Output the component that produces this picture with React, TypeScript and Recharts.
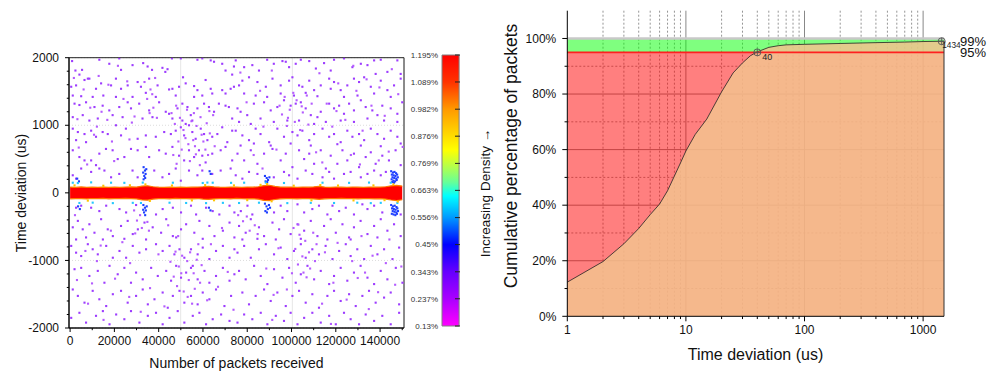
import React from 'react';
import {
  ComposedChart, Area, Scatter, XAxis, YAxis, CartesianGrid, ReferenceArea,
  ReferenceLine, ReferenceDot, BarChart, Bar,
} from 'recharts';

const FONT = '"Liberation Sans", Arial, Helvetica, sans-serif';

// ---------------- Left chart: time deviation vs packets (x in thousands of packets) ----------------
const packetTicksK = [0, 10, 20, 30, 40, 50, 60, 70, 80, 90, 100, 110, 120, 130, 140, 150];
const packetLabelTicksK = [0, 20, 40, 60, 80, 100, 120, 140];
const deviationTicks = [-2000, -1800, -1600, -1400, -1200, -1000, -800, -600, -400, -200, 0, 200, 400, 600, 800, 1000, 1200, 1400, 1600, 1800, 2000];
const deviationLabelTicks = [-2000, -1000, 0, 1000, 2000];
const deviationGridTicks = [-1000, 1000];

const bandXK = [0, 2.5, 5, 7.5, 10, 12.5, 15, 17.5, 20, 22.5, 25, 27.5, 30, 32.5, 35, 37.5, 40, 42.5, 45, 47.5, 50, 52.5, 55, 57.5, 60, 62.5, 65, 67.5, 70, 72.5, 75, 77.5, 80, 82.5, 85, 87.5, 90, 92.5, 95, 97.5, 100, 102.5, 105, 107.5, 110, 112.5, 115, 117.5, 120, 122.5, 125, 127.5, 130, 132.5, 135, 137.5, 140, 142.5, 145, 147.5, 150];
const bandUpper = [85, 80, 88, 82, 86, 80, 84, 82, 86, 80, 85, 88, 86, 100, 105, 90, 84, 82, 86, 80, 85, 82, 84, 86, 90, 96, 88, 84, 82, 86, 84, 82, 86, 84, 90, 108, 112, 95, 86, 84, 86, 82, 85, 84, 88, 95, 86, 82, 85, 84, 82, 86, 84, 82, 86, 84, 86, 90, 104, 112, 100];
const bandLower = [-88, -84, -86, -90, -84, -86, -82, -88, -84, -86, -82, -86, -90, -104, -108, -92, -86, -84, -88, -82, -86, -84, -88, -84, -92, -98, -90, -86, -84, -88, -82, -86, -88, -86, -94, -112, -115, -98, -88, -84, -86, -88, -84, -86, -90, -96, -88, -84, -86, -82, -86, -84, -88, -84, -86, -88, -86, -92, -106, -114, -102];

const violetDotsUpper: number[][] = [
  [0.9,1950],[2.4,1810],[4.2,1750],[5.4,1820],[8.7,1690],[13.2,1970],[17.7,1910],[22.2,1990],[23,1820],[28.2,1890],[33,1920],[35,1870],[37,1820],[41.7,1850],[43,1790],[44,1830],[46,1990],[50,1990],[51,1710],[57.5,1970],[59.7,1990],[63.5,1960],[65,1940],[68.7,1910],[70.2,1810],[74,1870],[73.2,1750],
  [0.5,1570],[2.7,1590],[6.5,1670],[8,1690],[11.7,1540],[14,1620],[18.5,1590],[20.7,1690],[23,1540],[26,1590],[30.5,1640],[32,1570],[35.7,1690],[39.5,1590],[44.7,1530],[46.2,1540],[49.2,1570],[52.2,1620],[56,1580],[57.5,1520],[61.2,1670],[63.5,1540],[68.7,1520],[72.5,1540],[74,1570],[1.2,1440],[5,1430],[10.2,1420],[15,1440],[20.7,1420],[28.2,1420],[34.2,1480],[38.7,1420],[47.7,1440],[56,1420],[59.7,1440],[64.2,1470],[70.2,1470],
  [2,1320],[4.2,1300],[7.2,1340],[11,1270],[14.7,1290],[17.7,1220],[22.2,1270],[26,1340],[27.5,1250],[31.2,1320],[35.7,1220],[40.2,1340],[43.2,1200],[44.7,1170],[48.5,1250],[50.7,1320],[53,1270],[54.5,1150],[55.2,1070],[57.5,1250],[60.5,1320],[62.7,1270],[65,1200],[67.2,1320],[70.2,1290],[71.7,1270],[73.2,1100],[1.2,1120],[5.7,1150],[8.7,1070],[12.5,1100],[19.2,1150],[23.7,1120],[32.7,1100],[37.2,1120],[46.2,1100],[50.7,1070],[52.2,1020],
  [1.2,950],[3.5,900],[6.5,870],[9.5,920],[11.7,830],[14.7,900],[17,870],[20.7,1000],[23,850],[25.2,950],[30.5,800],[34.2,850],[38.7,830],[42.5,900],[45.5,870],[47.7,920],[50,970],[51.5,850],[53.7,1000],[55.2,900],[56.7,800],[59,950],[60.5,870],[62,780],[64.2,830],[66.5,870],[68.7,970],[71,750],[73.2,920],[2.7,780],[7.2,750],
  [1.2,630],[4.2,530],[6.5,480],[9.5,480],[13.2,580],[16.2,650],[19.2,630],[21.5,500],[24.5,530],[27.5,650],[30.5,630],[34.2,680],[35.7,530],[40.2,630],[43.2,580],[46.2,680],[49.2,550],[51.5,480],[53.7,630],[56,530],[58.2,630],[59.7,550],[61.2,450],[64.2,580],[68,630],[70.2,680],[73.2,480],[11.7,410],
  [1.2,260],[2.7,210],[5,360],[9.5,310],[13.2,360],[15.5,330],[18.5,230],[22.2,280],[28.2,330],[30.5,230],[38,330],[41.7,230],[44.7,280],[47.7,360],[50,180],[53.7,330],[57.5,260],[59.7,330],[64.2,280],[68,330],[72.5,360],
  [74.8,1960],[78.6,1860],[82.3,1890],[85.3,1810],[89,1970],[92,1910],[95.9,1950],[97.4,1940],[98.9,1860],[101.9,1910],[104.2,1970],[108,1950],[111,1840],[114.7,1920],[117.7,1810],[119.2,1970],[123.7,1990],[127.5,1860],[131.3,1910],[134.3,1890],[137.3,1960],[140.3,1970],[143.3,1790],[147.8,1960],[149.3,1760],
  [76.3,1590],[77.8,1660],[80.8,1710],[84.6,1640],[88.4,1570],[91.4,1690],[95.1,1590],[98.9,1660],[100.4,1710],[103.4,1590],[104.9,1570],[108,1660],[110.2,1520],[113.2,1590],[117,1690],[119.2,1640],[122.2,1520],[125.2,1590],[128.2,1690],[130.5,1640],[132.8,1710],[135.8,1570],[138,1760],[140.3,1660],[143.3,1520],[146.3,1590],[149.3,1690],[78.6,1470],[83.8,1440],[89,1420],[95.1,1470],[101.1,1440],[106.4,1480],[111.7,1430],[117.7,1540],[123.7,1420],[129.8,1440],[137.3,1470],[144.8,1420],
  [75.6,1250],[77,1200],[80,1150],[83,1320],[87.6,1340],[90.6,1220],[93.6,1270],[96.6,1370],[99.6,1290],[101.9,1320],[104.2,1340],[106.4,1250],[108.7,1150],[111.7,1120],[113.2,1200],[117,1320],[119.2,1250],[121.5,1290],[123.7,1170],[126,1320],[128.2,1220],[131.3,1370],[133.5,1270],[136.5,1220],[138.8,1150],[141,1290],[144.8,1250],[147.8,1170],[150,1340],[76.3,1050],[81.6,1020],[86,1100],[92,1050],[98.1,1070],[103.4,1070],[110.2,1020],[115.5,1050],[122.2,1070],[128.2,1050],[134.3,1100],[141.8,1070],[147.8,1050],
  [74.8,920],[77.8,850],[80.8,780],[83.8,950],[86,870],[89.9,750],[93.6,950],[96.6,830],[100.4,900],[102.7,850],[104.9,920],[108,780],[110.2,870],[114,950],[117,830],[119.2,870],[122.2,750],[125.2,920],[127.5,830],[130.5,870],[132.8,780],[135.8,950],[138.8,870],[141.8,800],[144.8,920],[147.8,830],[149.3,730],[77,700],[83,730],[90.6,700],[99.6,730],[108.7,700],[120.7,720],[131.3,700],[140.3,690],
  [75.6,580],[78.6,480],[81.6,630],[84.6,430],[87.6,580],[91.4,650],[95.1,480],[97.4,580],[100.4,380],[103.4,630],[105.7,500],[108,580],[110.2,430],[113.2,630],[115.5,360],[117.7,550],[120.7,430],[123,630],[125.2,480],[128.2,580],[130.5,380],[133.5,530],[135.8,600],[138,430],[141,550],[144,480],[147,630],[149.3,410],
  [74.8,260],[77.8,210],[80.8,310],[84.6,280],[92,230],[96.6,310],[98.9,260],[102.7,210],[106.4,330],[109.4,280],[114,230],[117,310],[119.2,210],[123.7,280],[126.7,310],[131.3,230],[134.3,280],[137.3,330],[140.3,260],[142.6,310],
];

const violetDotsUpperLight: number[][] = [
  [45.8,1180],[47.3,1020],[48.9,760],[49.6,1110],[50.4,640],[51.2,930],[52.8,1230],[53.4,720],[54.1,470],[55.9,1180],[56.4,690],[57.1,990],[58.6,410],[58.9,1120],[60.2,760],[61.7,1030],[62.3,560],[63.1,880],[64.6,1150],[65.3,690],[46.6,560],[48.1,430],[52.1,810],[54.8,1060],[56.8,570],[59.4,860],[61.1,640],[62.9,1210],[47.9,1290],[55.6,780],
  [33.6,1640],[34.8,1390],[36.3,1530],[37.6,1260],[38.4,1700],[39.2,1110],[35.9,1180],[37.1,1460],
  [3.3,1090],[6.1,1530],[9.1,1260],[10.8,860],[12.9,1730],[16.8,1080],[18.9,760],[21.6,1880],[24.1,1390],[26.8,790],[29.1,1130],[7.7,420],[14.2,1200],[19.9,470],[25.8,1650],[3.9,670],[12.1,980],[27.9,1040],[1.7,1700],[17.3,1600],
  [95.7,1160],[96.9,1420],[97.9,990],[99.2,1230],[100.8,1480],[101.5,1050],[102.3,1370],[103.9,930],[105.1,1190],[106.9,1440],[107.6,1010],[109.1,1320],[94.6,1290],[98.4,1110],[104.6,1280],
  [76.9,1780],[79.7,1340],[82.9,560],[85.8,1510],[87.3,980],[91.1,1810],[93.2,640],[112.6,1770],[115.9,1320],[118.4,980],[121.1,1620],[124.3,1080],[126.8,560],[129.3,1510],[132.1,920],[133.9,1680],[136.1,1290],[139.4,480],[142.1,1140],[145.3,1830],[148.2,1460],[150.2,680],[113.9,450],[120.3,1210],[127.9,1880],[139.7,1560],[143.9,610],[86.9,360],[111.1,600],[130.9,420],
];

const violetDotsLower: number[][] = [
  [2.7,-220],[5,-190],[9.5,-220],[13.2,-270],[16.3,-190],[22.3,-240],[25.3,-290],[29.8,-180],[38.8,-320],[41.8,-240],[46.4,-220],[50.1,-290],[54.6,-190],[56.9,-320],[61.4,-220],[64.4,-270],[67.4,-320],[72,-190],[74.2,-290],
  [1.2,-510],[3.5,-415],[5.7,-540],[8.7,-465],[11,-590],[14,-390],[17,-540],[19.3,-640],[23,-490],[26,-415],[28.3,-610],[30.6,-540],[33.6,-440],[37.3,-510],[41.1,-590],[43.4,-390],[46.4,-640],[50.1,-540],[52.4,-465],[56.1,-590],[58.4,-415],[62.9,-490],[65.2,-640],[69,-560],[72,-440],[74.2,-660],[2.7,-690],[7.2,-660],[14.8,-690],[24.5,-680],[34.3,-690],[47.9,-660],[59.9,-680],
  [0.5,-785],[2.7,-885],[5,-935],[8,-760],[10.2,-835],[12.5,-910],[16.3,-785],[19.3,-960],[22.3,-860],[25.3,-960],[28.3,-785],[31.3,-885],[34.3,-835],[38.8,-760],[41.8,-860],[44.9,-785],[47.1,-910],[49.4,-835],[51.6,-960],[54.6,-835],[55.4,-1080],[57.6,-910],[59.9,-810],[62.9,-980],[65.9,-860],[69,-785],[72,-960],[74.2,-835],
  [2,-1130],[5,-1110],[8.7,-1230],[12.5,-1155],[15.5,-1330],[17.8,-1080],[21.5,-1205],[24.5,-1110],[27.5,-1330],[29.8,-1180],[32.8,-1280],[36.6,-1110],[39.6,-1230],[43.4,-1155],[45.6,-1300],[47.9,-1080],[50.1,-1255],[52.4,-1180],[54.6,-1110],[57.6,-1280],[60.7,-1155],[62.9,-1330],[65.9,-1230],[69,-1110],[72,-1300],[74.2,-1205],
  [1.2,-1430],[3.5,-1525],[6.5,-1625],[10.2,-1450],[13.2,-1575],[16.3,-1675],[19.3,-1500],[23,-1450],[26,-1625],[29.8,-1525],[32.8,-1430],[35.1,-1650],[38.1,-1575],[41.8,-1475],[44.1,-1700],[46.4,-1525],[49.4,-1450],[51.6,-1625],[54.6,-1525],[57.6,-1650],[59.9,-1475],[62.9,-1575],[65.9,-1430],[69.7,-1675],[72.7,-1525],
  [0.5,-1850],[4.2,-1775],[7.2,-1920],[11.7,-1820],[14.8,-1750],[17.8,-1945],[20.8,-1800],[24.5,-1870],[27.5,-1750],[31.3,-1920],[35.1,-1820],[38.8,-1775],[41.8,-1945],[44.9,-1850],[48.6,-1750],[51.6,-1920],[55.4,-1820],[58.4,-1775],[61.4,-1945],[64.4,-1870],[68.2,-1800],[72,-1895],
  [77.1,-270],[80.1,-190],[82.3,-320],[92.1,-290],[95.1,-190],[98.1,-270],[102.7,-170],[105.7,-290],[109.4,-240],[112.4,-190],[116.2,-320],[118.5,-190],[121.5,-270],[124.5,-220],[128.2,-320],[132,-170],[134.3,-240],[137.3,-190],[141,-290],[149.3,-320],
  [76.3,-490],[79.3,-590],[81.6,-390],[85.3,-510],[87.6,-640],[91.4,-440],[94.4,-540],[96.6,-390],[99.6,-610],[102.7,-465],[105.7,-560],[108.7,-415],[111.7,-640],[114.7,-490],[117.7,-390],[120,-590],[123,-465],[126,-660],[128.2,-510],[131.2,-415],[134.3,-610],[137.3,-490],[140.3,-390],[143.3,-560],[146.3,-465],[149.3,-640],[77.8,-690],[84.6,-680],[92.9,-690],[104.2,-680],[116.2,-690],[126.7,-690],[138.8,-660],
  [75.6,-885],[78.6,-785],[81.6,-960],[85.3,-835],[88.4,-760],[92.1,-910],[95.1,-810],[98.1,-980],[101.1,-860],[104.2,-760],[106.4,-960],[109.4,-835],[112.4,-910],[115.4,-785],[118.5,-980],[121.5,-860],[124.5,-760],[126.7,-935],[129.7,-835],[132.8,-980],[135.8,-785],[138.8,-910],[141.8,-835],[145.6,-980],[148.6,-810],
  [76.3,-1155],[79.3,-1280],[83.1,-1080],[86.1,-1230],[89.1,-1350],[92.1,-1130],[95.9,-1255],[98.9,-1110],[101.9,-1330],[104.2,-1205],[107.2,-1080],[110.2,-1280],[113.2,-1155],[117,-1350],[119.2,-1230],[122.2,-1110],[125.2,-1300],[128.2,-1180],[131.2,-1080],[134.3,-1255],[137.3,-1350],[140.3,-1155],[143.3,-1280],[147.1,-1110],[150.1,-1330],
  [77.8,-1475],[80.8,-1650],[83.8,-1525],[87.6,-1430],[90.6,-1600],[93.6,-1475],[97.4,-1675],[100.4,-1525],[103.4,-1450],[106.4,-1625],[109.4,-1500],[112.4,-1700],[116.2,-1525],[119.2,-1450],[122.2,-1600],[126,-1500],[129,-1675],[132,-1525],[135,-1450],[138,-1625],[141.8,-1550],[144.8,-1475],[148.6,-1650],
  [75.6,-1920],[78.6,-1800],[82.3,-1870],[86.1,-1775],[89.1,-1945],[92.9,-1820],[96.6,-1895],[99.6,-1775],[102.7,-1945],[105.7,-1850],[109.4,-1775],[113.2,-1920],[117,-1820],[120,-1945],[123.7,-1775],[126.7,-1870],[130.5,-1945],[133.5,-1800],[137.3,-1895],[141,-1820],[144.8,-1945],[148.6,-1775],
];

const violetDotsLowerLight: number[][] = [
  [45.3,-1020],[46.8,-1240],[47.6,-870],[48.3,-1380],[49.1,-1090],[50.6,-930],[51.3,-1460],[52.9,-1010],[53.6,-1290],[54.2,-880],[55.8,-1190],[56.3,-1420],[57.2,-990],[58.7,-1330],[59.4,-1070],[50.2,-1190],[53.1,-1540],[55.1,-1640],[57.9,-760],[48.8,-640],
  [28.9,-260],[30.2,-410],[31.6,-330],[32.4,-520],[34.9,-430],[35.6,-560],[29.4,-600],
  [100.9,-520],[101.7,-830],[102.9,-1060],[103.6,-620],[104.9,-940],[105.4,-1180],[106.2,-710],[107.9,-880],[108.4,-1120],[109.8,-590],[110.6,-1010],[111.3,-760],[103.1,-470],[106.8,-1250],[100.2,-1190],
  [75.9,-330],[78.1,-420],[79.8,-350],[81.1,-560],[83.4,-480],[84.7,-610],
  [2.2,-330],[6.9,-860],[9.9,-1340],[12.1,-1010],[15.1,-1880],[18.4,-560],[20.3,-1270],[23.6,-730],[26.7,-1540],[27.1,-1040],[31.9,-1760],[36.1,-1410],[39.9,-910],[42.6,-1680],[44.3,-480],[61.9,-1590],[63.6,-760],[66.8,-1390],[68.6,-520],[71.2,-1170],[73.8,-1730],[3.1,-1290],[8.1,-1640],[13.8,-780],
  [88.6,-1120],[91.9,-1510],[94.1,-820],[97.9,-1430],[113.8,-1640],[115.1,-880],[118.9,-1330],[120.8,-740],[124.9,-1580],[127.4,-1010],[129.9,-1260],[131.6,-640],[134.9,-1720],[136.6,-930],[139.1,-1470],[142.6,-1040],[144.2,-690],[146.8,-1360],[149.6,-1090],[91.3,-1880],[117.8,-1940],[133.2,-1180],
];

const blueDots: number[][] = [
  [33.2,380],[33.8,330],[33,300],[34.1,280],[33.5,250],[33.9,220],[33.2,200],[34.4,350],
  [33.1,-180],[33.8,-220],[34.2,-260],[33.4,-290],[33.9,-330],[34.6,-200],[33,-250],
  [88,250],[88.8,220],[89.4,190],[88.3,170],[90,230],[89,160],
  [88,-160],[88.7,-200],[89.3,-240],[88.2,-270],[89.8,-180],[90.3,-220],[88.9,-290],
  [145,320],[145.8,300],[146.5,310],[147.2,290],[145.3,270],[146.1,260],[146.9,250],[147.7,270],[145.6,230],[146.4,220],[147.3,210],[148,230],[145.2,200],[146,180],[146.8,170],[147.5,190],[146.3,150],[145.5,160],
  [145,-180],[145.8,-200],[146.6,-190],[147.4,-210],[145.4,-230],[146.2,-240],[147,-250],[147.8,-230],[145.7,-270],[146.5,-280],[147.3,-290],[148.1,-270],[145.3,-310],[146.1,-320],[146.9,-330],[147.6,-310],
  [3.2,210],[4,170],[3.6,-200],[4.4,-240],[63,320],[63.5,280],[62.7,-220],[63.4,-260],
];

const cyanDots: number[][] = [
  [1.2,150],[3.5,145],[9.5,155],[18.5,150],[24.5,148],[32.8,152],[46.4,150],[59.9,146],[62,152],[64.4,150],[72.7,148],
  [78.6,150],[88.4,152],[96.6,146],[114,150],[126,148],[135,152],[144.8,150],
  [4.2,-150],[10.2,-145],[19.3,-152],[28.3,-148],[32,-150],[44.9,-146],[52.4,-150],[61.4,-152],[69,-148],
  [76.3,-150],[85.3,-146],[98.1,-152],[108.7,-148],[119.2,-150],[129.7,-146],[135.8,-152],[140.3,-148],[147.8,-150],
];

const warmDots: number[][] = [
  [2,110],[8,-115],[15,105],[27,112],[34,125],[36,-120],[46,108],[55,-112],[61,115],[65,-110],[74,110],[80,-108],
  [86,118],[89,130],[91,-125],[101,106],[109,-110],[113,115],[121,108],[128,-112],[137,110],[142,-108],[146,125],[148,-128],
];

// ---------------- Colour bar ----------------
const densityTicks = [0.13, 0.237, 0.343, 0.45, 0.556, 0.663, 0.769, 0.876, 0.982, 1.089, 1.195];
const densityLabels = ['0.13%', '0.237%', '0.343%', '0.45%', '0.556%', '0.663%', '0.769%', '0.876%', '0.982%', '1.089%', '1.195%'];
const densityStops: [number, string][] = [
  [0, '#ff0000'], [0.1, '#ff3300'], [0.2, '#ff9900'], [0.3, '#ffdd00'], [0.35, '#ffff00'], [0.42, '#aaff55'],
  [0.47, '#66ff99'], [0.52, '#00ffff'], [0.6, '#0099ff'], [0.7, '#0000ff'], [0.8, '#6600ff'], [0.9, '#aa00ff'], [1, '#ff00ff'],
];

// ---------------- Right chart: cumulative distribution ----------------
const cdfDeviation = [1, 2, 3, 4, 5, 6, 7, 8, 9, 10, 12, 15, 20, 25, 30, 35, 40, 50, 60, 70, 100, 200, 400, 700, 1000, 1434, 1500];
const cdfPercent = [12.3, 19.7, 26.1, 31.6, 36.6, 40.4, 45.2, 50.5, 55.2, 59.5, 65.5, 71, 80.8, 87.6, 91.2, 93.8, 95.2, 96.8, 97.4, 97.7, 97.9, 98.2, 98.5, 98.7, 98.9, 99, 99];
const logTicks = [1, 2, 3, 4, 5, 6, 7, 8, 9, 10, 20, 30, 40, 50, 60, 70, 80, 90, 100, 200, 300, 400, 500, 600, 700, 800, 900, 1000];
const decadeTicks = [1, 10, 100, 1000];
const decadeGridTicks = [10, 100, 1000];
const minorLogTicks = [2, 3, 4, 5, 6, 7, 8, 9, 20, 30, 40, 50, 60, 70, 80, 90, 200, 300, 400, 500, 600, 700, 800, 900];
const percentTicks = [0, 10, 20, 30, 40, 50, 60, 70, 80, 90, 100];
const percentLabelTicks = [0, 20, 40, 60, 80, 100];
const percentGridTicks = [20, 40, 60, 80];
const percentMinorTicks = [10, 30, 50, 70, 90];
const P95 = 95;
const P99 = 99;
const FULL = 100;
const markerPoints = [{ x: 40, y: 95, label: '40' }, { x: 1434, y: 99, label: '1434' }];

const cdfRows = cdfDeviation.map((x, i) => ({ x, cdf: cdfPercent[i], below: [0, P95], above: [P95, FULL] }));
const bandRows = bandXK.map((x, i) => ({ x, band: [bandLower[i], bandUpper[i]] }));
const toPts = (arr: number[][]) => arr.map(([x, y]) => ({ x, y }));

const logDom: [number, number] = [1, 1500];
const pctDom: [number, number] = [0, 110];

// grid coordinates through the axis scale (fallback: same log / linear mapping from the plot offset)
const vGrid = (vals: number[]) => (p: any) => {
  const s = p?.xAxis?.scale;
  return vals.map((v) => {
    if (typeof s === 'function') { const r = s(v); if (Number.isFinite(r)) return r; }
    const o = p.offset;
    return o.left + (o.width * Math.log10(v / logDom[0])) / Math.log10(logDom[1] / logDom[0]);
  });
};
const hGrid = (vals: number[]) => (p: any) => {
  const s = p?.yAxis?.scale;
  return vals.map((v) => {
    if (typeof s === 'function') { const r = s(v); if (Number.isFinite(r)) return r; }
    const o = p.offset;
    return o.top + o.height * (1 - (v - pctDom[0]) / (pctDom[1] - pctDom[0]));
  });
};

const square = (color: string, s = 2.1) => (p: any) =>
  (p.cx == null ? <g /> : <rect x={p.cx - s / 2} y={p.cy - s / 2} width={s} height={s} fill={color} />);

function makeTick(orient: 'bottom' | 'left', majors: number[], fmt: (v: number) => string, len: number, gap: number, size: number) {
  return (props: any) => {
    const { x, y, payload } = props;
    const v = payload.value;
    const major = majors.includes(v);
    const L = major ? len : len * 0.55;
    if (orient === 'bottom') {
      return (
        <g>
          <line x1={x} y1={y} x2={x} y2={y + L} stroke="#000" strokeWidth={1} />
          {major && (
            <text x={x} y={y + len + gap} dy="0.72em" textAnchor="middle" fontSize={size} fontFamily={FONT} fill="#111">{fmt(v)}</text>
          )}
        </g>
      );
    }
    return (
      <g>
        <line x1={x} y1={y} x2={x - L} y2={y} stroke="#000" strokeWidth={1} />
        {major && (
          <text x={x - len - gap} y={y} dy="0.35em" textAnchor="end" fontSize={size} fontFamily={FONT} fill="#111">{fmt(v)}</text>
        )}
      </g>
    );
  };
}

const densityTick = (props: any) => {
  const { x, y, payload, index } = props;
  const i = densityTicks.indexOf(payload.value);
  return (
    <g>
      <text x={x - 3} y={y} dy="0.35em" textAnchor="end" fontSize={8} fontFamily={FONT} fill="#333">{densityLabels[i >= 0 ? i : index]}</text>
      <line x1={x + 14} y1={y} x2={x + 19} y2={y} stroke="#222" strokeWidth={1} />
    </g>
  );
};

const crossMarker = (label: string, dx: number, dy: number, fs: number) => (p: any) => (
  <g>
    <circle cx={p.cx} cy={p.cy} r={3.5} fill="none" stroke="#555" strokeWidth={0.9} />
    <line x1={p.cx - 3.5} y1={p.cy} x2={p.cx + 3.5} y2={p.cy} stroke="#555" strokeWidth={0.9} />
    <line x1={p.cx} y1={p.cy - 3.5} x2={p.cx} y2={p.cy + 3.5} stroke="#555" strokeWidth={0.9} />
    <text x={p.cx + dx} y={p.cy + dy} fontSize={fs} fontFamily={FONT} fill="#222">{label}</text>
  </g>
);

export default function App() {
  const xDomK: [number, number] = [-0.5, 150.8];
  const yDom: [number, number] = [-2000, 2000];
  return (
    <div style={{ position: 'absolute', left: 0, top: 0, width: 987, height: 374, background: '#fff', fontFamily: FONT }}>
      {/* Left scatter chart */}
      <div style={{ position: 'absolute', left: 0, top: 0 }}>
        <ComposedChart width={420} height={374} data={bandRows} margin={{ top: 57.7, right: 16, bottom: 16, left: 19 }}>
          <XAxis dataKey="x" type="number" domain={xDomK} allowDataOverflow ticks={packetTicksK} interval={0}
            tickLine={false} tickSize={0} tickMargin={0} height={30} axisLine={{ stroke: '#000' }}
            tick={makeTick('bottom', packetLabelTicksK, (v) => String(Math.round(v * 1000)), 4, 4, 12)} />
          <XAxis xAxisId="g" type="number" domain={xDomK} allowDataOverflow ticks={packetLabelTicksK} hide />
          <YAxis dataKey="y" type="number" domain={yDom} allowDataOverflow ticks={deviationTicks} interval={0}
            tickLine={false} tickSize={0} tickMargin={0} width={50} axisLine={{ stroke: '#000' }}
            tick={makeTick('left', deviationLabelTicks, (v) => String(v), 4, 6, 12)} />
          <YAxis yAxisId="g" type="number" domain={yDom} allowDataOverflow ticks={deviationGridTicks} hide />
          <CartesianGrid xAxisId="g" yAxisId="g" horizontal={false} stroke="#e6e6e6" />
          <CartesianGrid xAxisId="g" yAxisId="g" vertical={false} stroke="#dcdcdc" strokeDasharray="1 2" />
          <ReferenceArea x1={xDomK[0]} x2={xDomK[1]} y1={yDom[0]} y2={yDom[1]} fill="none" stroke="#222" strokeWidth={1} />
          <Scatter data={toPts(violetDotsUpper)} fill="#9d3cff" shape={square('#9d3cff')} isAnimationActive={false} />
          <Scatter data={toPts(violetDotsLower)} fill="#9d3cff" shape={square('#9d3cff')} isAnimationActive={false} />
          <Scatter data={toPts(violetDotsUpperLight)} fill="#b45cff" shape={square('#b45cff')} isAnimationActive={false} />
          <Scatter data={toPts(violetDotsLowerLight)} fill="#b45cff" shape={square('#b45cff')} isAnimationActive={false} />
          <Scatter data={toPts(blueDots)} fill="#1f3fff" shape={square('#1f3fff')} isAnimationActive={false} />
          <Scatter data={toPts(cyanDots)} fill="#22c8ff" shape={square('#22c8ff')} isAnimationActive={false} />
          <Area dataKey="band" type="linear" fill="#ff0000" fillOpacity={1} stroke="#ff7a00" strokeWidth={1.2} isAnimationActive={false} dot={false} activeDot={false} />
          <Scatter data={toPts(warmDots)} fill="#ffc400" shape={square('#ffc400')} isAnimationActive={false} />
        </ComposedChart>
      </div>

      {/* Colour bar */}
      <div style={{ position: 'absolute', left: 390, top: 0 }}>
        <BarChart width={80} height={374} data={[{ n: 'density', v: [densityTicks[0], densityTicks[densityTicks.length - 1]] }]}
          margin={{ top: 55, right: 10, bottom: 48, left: 0 }} barCategoryGap={0}>
          <defs>
            <linearGradient id="densityGradient" x1="0" y1="0" x2="0" y2="1">
              {densityStops.map(([o, c]) => <stop key={o} offset={o} stopColor={c} />)}
            </linearGradient>
          </defs>
          <XAxis dataKey="n" hide />
          <YAxis type="number" domain={[densityTicks[0], densityTicks[densityTicks.length - 1]]} ticks={densityTicks} interval={0}
            width={51} tickLine={false} axisLine={false} tickSize={0} tickMargin={0} tick={densityTick} />
          <Bar dataKey="v" fill="url(#densityGradient)" stroke="#808080" strokeWidth={1} barSize={19} isAnimationActive={false} />
        </BarChart>
      </div>

      {/* Right CDF chart */}
      <div style={{ position: 'absolute', left: 490, top: 0 }}>
        <ComposedChart width={497} height={374} data={cdfRows} margin={{ top: 10.7, right: 43, bottom: 27.7, left: 17.3 }}>
          <XAxis dataKey="x" type="number" scale="log" domain={logDom} allowDataOverflow ticks={logTicks} interval={0}
            tickLine={false} tickSize={0} tickMargin={0} height={30} axisLine={{ stroke: '#000' }}
            tick={makeTick('bottom', decadeTicks, (v) => String(v), 5, 4, 12)} />
          <YAxis type="number" domain={pctDom} allowDataOverflow ticks={percentTicks} interval={0}
            tickLine={false} tickSize={0} tickMargin={0} width={60} axisLine={{ stroke: '#000' }}
            tick={makeTick('left', percentLabelTicks, (v) => `${v}%`, 5, 6, 12)} />
          <CartesianGrid stroke="#7a7a7a" strokeWidth={0.8} strokeDasharray="2 2"
            verticalCoordinatesGenerator={vGrid(minorLogTicks)} horizontalCoordinatesGenerator={hGrid(percentMinorTicks)} />
          <CartesianGrid stroke="#7a7a7a" strokeWidth={0.9}
            verticalCoordinatesGenerator={vGrid(decadeGridTicks)} horizontalCoordinatesGenerator={hGrid(percentGridTicks)} />
          <Area dataKey="below" type="linear" fill="#ff0000" fillOpacity={0.5} stroke="none" isAnimationActive={false} dot={false} activeDot={false} />
          <Area dataKey="above" type="linear" fill="#00ff00" fillOpacity={0.5} stroke="none" isAnimationActive={false} dot={false} activeDot={false} />
          <Area dataKey="cdf" type="linear" baseValue={0} fill="#f3c28e" fillOpacity={0.85} stroke="#222" strokeWidth={0.8} isAnimationActive={false} dot={false} activeDot={false} />
          <ReferenceLine y={FULL} stroke="#c8c8c8" strokeWidth={2.5} />
          <ReferenceLine y={P95} stroke="#ff2020" strokeWidth={1.6}
            label={{ value: '95%', position: 'right', offset: 16, fontSize: 13, fill: '#111', fontFamily: FONT }} />
          <ReferenceLine y={P99} stroke="none"
            label={{ value: '99%', position: 'right', offset: 16, fontSize: 13, fill: '#111', fontFamily: FONT }} />
          <ReferenceLine segment={[{ x: logDom[1], y: 0 }, { x: logDom[1], y: P99 }]} stroke="#333" strokeWidth={1} />
          <ReferenceDot x={markerPoints[0].x} y={markerPoints[0].y} r={3.5} shape={crossMarker(markerPoints[0].label, 5, 7.7, 9)} />
          <ReferenceDot x={markerPoints[1].x} y={markerPoints[1].y} r={3.5} shape={crossMarker(markerPoints[1].label, 0.5, 6.5, 8.3)} />
        </ComposedChart>
      </div>

      {/* Axis titles */}
      <svg width={987} height={374} style={{ position: 'absolute', left: 0, top: 0, pointerEvents: 'none' }}>
        <text transform="translate(21,193) rotate(-90)" textAnchor="middle" dy="0.35em" fontSize={14} fontFamily={FONT} fill="#111">Time deviation (us)</text>
        <text x={236.5} y={363} textAnchor="middle" dy="0.35em" fontSize={14} fontFamily={FONT} fill="#111">Number of packets received</text>
        <text transform="translate(485,193) rotate(-90)" textAnchor="middle" dy="0.35em" fontSize={13.5} fontFamily={FONT} fill="#111">Increasing Density →</text>
        <text transform="translate(511,156) rotate(-90)" textAnchor="middle" dy="0.35em" fontSize={17.5} fontFamily={FONT} fill="#111">Cumulative percentage of packets</text>
        <text x={755.5} y={354} textAnchor="middle" dy="0.35em" fontSize={16} fontFamily={FONT} fill="#111">Time deviation (us)</text>
      </svg>
    </div>
  );
}
